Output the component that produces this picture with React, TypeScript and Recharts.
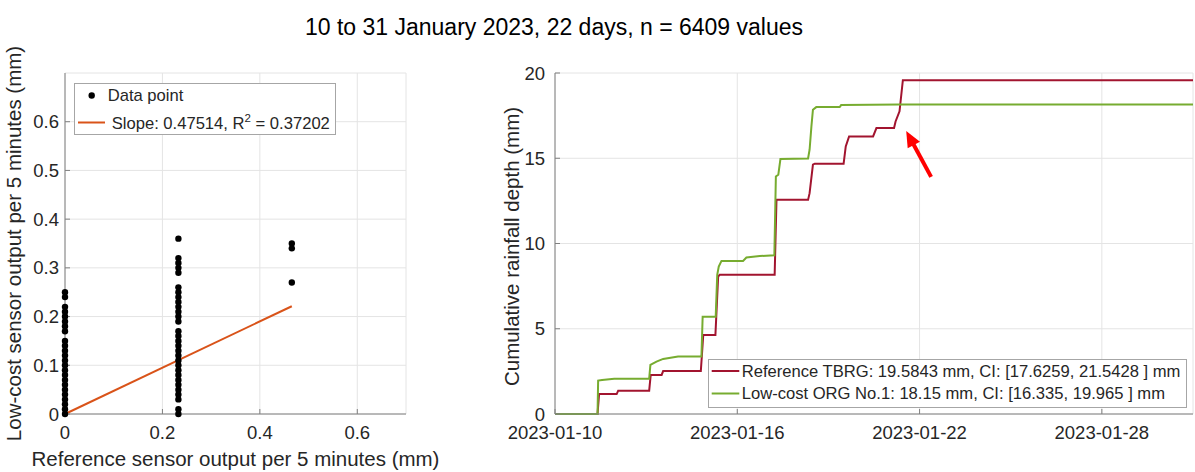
import React from 'react';
import {
  ComposedChart,
  LineChart,
  Line,
  Scatter,
  XAxis,
  YAxis,
  CartesianGrid,
  Legend,
  ReferenceLine,
  Label,
} from 'recharts';

const FONT = '"Liberation Sans", Arial, Helvetica, sans-serif';
const TEXT = '#262626';
const AXIS = '#808080';
const GRID = '#e4e4e4';
const RED = '#A2142F';
const GREEN = '#77AC30';
const ORANGE = '#D95319';

const titleText = '10 to 31 January 2023, 22 days, n = 6409 values';

// ---------- Left panel: scatter ----------
const refLevels = [0, 0.2328, 0.4656];
const lowCostAtRef0 = [
  0.25, 0.24, 0.22, 0.21, 0.2, 0.19, 0.18, 0.17, 0.15, 0.14, 0.13, 0.12, 0.11,
  0.1, 0.09, 0.08, 0.07, 0.06, 0.05, 0.04, 0.03, 0.02, 0.01, 0,
];
const lowCostAtRef1 = [
  0.36, 0.32, 0.31, 0.3, 0.29, 0.26, 0.25, 0.24, 0.23, 0.22, 0.21, 0.2, 0.19,
  0.17, 0.16, 0.15, 0.14, 0.13, 0.12, 0.11, 0.1, 0.09, 0.08, 0.07, 0.06, 0.05,
  0.04, 0.03, 0.01, 0,
];
const lowCostAtRef2 = [0.35, 0.34, 0.27];
const fitX = [0, 0.4656];
const fitY = [0, 0.2212];
const scatterXTicks = [0, 0.2, 0.4, 0.6];
const scatterYTicks = [0, 0.1, 0.2, 0.3, 0.4, 0.5, 0.6];
const scatterLegend = ['Data point', 'Slope: 0.47514, R', '2', ' = 0.37202'];

const scatterData = [
  ...lowCostAtRef0.map((y) => ({ x: refLevels[0], y })),
  ...lowCostAtRef1.map((y) => ({ x: refLevels[1], y })),
  ...lowCostAtRef2.map((y) => ({ x: refLevels[2], y })),
];
const fitData = fitX.map((x, i) => ({ x, y: fitY[i] }));

// ---------- Right panel: cumulative rainfall ----------
const refDays = [
  0, 1.4, 1.45, 2.03, 2.08, 3.1, 3.15, 3.51, 3.56, 4.8, 4.88, 5.28, 5.37, 5.42,
  7.23, 7.29, 8.33, 8.38, 8.49, 8.55, 9.5, 9.57, 9.68, 10.47, 10.58, 11.16,
  11.21, 11.34, 11.45, 21,
];
const refDepth = [
  0, 0, 1.17, 1.17, 1.37, 1.37, 2.29, 2.29, 2.52, 2.52, 4.64, 4.64, 8.06, 8.16,
  8.16, 12.56, 12.56, 12.95, 14.62, 14.68, 14.68, 15.69, 16.28, 16.28, 16.77,
  16.77, 17.16, 17.75, 19.58, 19.58,
];
const orgDays = [
  0, 1.4, 1.42, 1.55, 1.95, 3.1, 3.14, 3.34, 3.56, 4.05, 4.82, 4.86, 5.29, 5.34,
  5.39, 5.48, 6.19, 6.3, 6.74, 7.22, 7.27, 7.35, 7.42, 8.33, 8.38, 8.44, 8.49,
  8.6, 9.37, 9.42, 11.34, 21,
];
const orgDepth = [
  0, 0, 1.96, 2.0, 2.07, 2.07, 2.88, 3.07, 3.23, 3.37, 3.37, 5.71, 5.71, 8.16,
  8.65, 8.98, 8.98, 9.18, 9.26, 9.31, 13.93, 14.03, 14.95, 14.99, 15.5, 16.87,
  17.85, 18.0, 18.0, 18.12, 18.15, 18.15,
];
const dateTickDays = [0, 6, 12, 18];
const dateTickLabels = ['2023-01-10', '2023-01-16', '2023-01-22', '2023-01-28'];
const depthTicks = [0, 5, 10, 15, 20];
const seriesNames = [
  'Reference TBRG: 19.5843 mm, CI: [17.6259, 21.5428 ] mm',
  'Low-cost ORG No.1: 18.15 mm, CI: [16.335, 19.965 ] mm',
];
const arrowTail = { x: 12.38, y: 13.91 };
const arrowTip = { x: 11.56, y: 16.6 };

const refData = refDays.map((t, i) => ({ t, v: refDepth[i] }));
const orgData = orgDays.map((t, i) => ({ t, v: orgDepth[i] }));

const tickStyle = { fill: TEXT, fontSize: 18.5, fontFamily: FONT };

const ArrowShape = (p: any) => {
  const { x1, y1, x2, y2 } = p;
  const dx = x2 - x1;
  const dy = y2 - y1;
  const len = Math.hypot(dx, dy) || 1;
  const ux = dx / len;
  const uy = dy / len;
  const headLen = 16;
  const headW = 7;
  const bx = x2 - ux * headLen;
  const by = y2 - uy * headLen;
  const px = -uy;
  const py = ux;
  return (
    <g>
      <line x1={x1} y1={y1} x2={bx + ux * 2} y2={by + uy * 2} stroke="#ff0000" strokeWidth={4} />
      <polygon
        points={`${x2},${y2} ${bx + px * headW},${by + py * headW} ${bx - px * headW},${by - py * headW}`}
        fill="#ff0000"
      />
    </g>
  );
};

const ScatterLegend = () => (
  <svg width={262} height={52} style={{ display: 'block' }}>
    <rect x={0.5} y={0.5} width={261} height={51} fill="#fff" stroke="#a6a6a6" strokeWidth={1} />
    <circle cx={17.7} cy={12.5} r={3.2} fill="#000" />
    <text x={33.7} y={12.5} dominantBaseline="central" fontSize={16.6} fill={TEXT} fontFamily={FONT}>
      {scatterLegend[0]}
    </text>
    <line x1={4} x2={31} y1={39.5} y2={39.5} stroke={ORANGE} strokeWidth={2} />
    <text x={37.7} y={45.5} fontSize={16.6} fill={TEXT} fontFamily={FONT}>
      {scatterLegend[1]}
      <tspan dy={-7} fontSize={11.5}>
        {scatterLegend[2]}
      </tspan>
      <tspan dy={7}>{scatterLegend[3]}</tspan>
    </text>
  </svg>
);

const RainLegend = () => (
  <svg width={479} height={49} style={{ display: 'block' }}>
    <rect x={0.5} y={0.5} width={478} height={48} fill="#fff" stroke="#a6a6a6" strokeWidth={1} />
    <line x1={3.7} x2={31.3} y1={12} y2={12} stroke={RED} strokeWidth={2} />
    <text x={33.7} y={12} dominantBaseline="central" fontSize={16.6} fill={TEXT} fontFamily={FONT}>
      {seriesNames[0]}
    </text>
    <line x1={3.7} x2={31.3} y1={34.5} y2={34.5} stroke={GREEN} strokeWidth={2} />
    <text x={33.7} y={34.5} dominantBaseline="central" fontSize={16.6} fill={TEXT} fontFamily={FONT}>
      {seriesNames[1]}
    </text>
  </svg>
);

export default function App() {
  return (
    <div
      style={{
        position: 'absolute',
        left: 0,
        top: 0,
        width: 1195,
        height: 472,
        background: '#fff',
        fontFamily: FONT,
        overflow: 'hidden',
      }}
    >
      <svg width={1195} height={45} style={{ position: 'absolute', left: 0, top: 0 }}>
        <text x={554} y={35} textAnchor="middle" fontSize={23} fill="#000" fontFamily={FONT}>
          {titleText}
        </text>
      </svg>

      <div style={{ position: 'absolute', left: 0, top: 0 }}>
        <ComposedChart
          width={460}
          height={472}
          margin={{ top: 73, right: 54, bottom: 28, left: 0 }}
          style={{ fontFamily: FONT }}
        >
          <CartesianGrid stroke={GRID} strokeWidth={1} />
          <XAxis
            type="number"
            dataKey="x"
            domain={[0, 0.7]}
            ticks={scatterXTicks}
            height={30}
            stroke={AXIS}
            tick={tickStyle}
            tickSize={-5}
            tickMargin={17}
            tickFormatter={(v: number) => String(v)}
          >
            <Label
              content={(p: any) => {
                const vb = p.viewBox || {};
                return (
                  <text
                    x={vb.x + vb.width / 2}
                    y={466}
                    textAnchor="middle"
                    fontSize={20.5}
                    fill={TEXT}
                    fontFamily={FONT}
                  >
                    Reference sensor output per 5 minutes (mm)
                  </text>
                );
              }}
            />
          </XAxis>
          <YAxis
            type="number"
            dataKey="y"
            domain={[0, 0.7]}
            ticks={scatterYTicks}
            width={65}
            stroke={AXIS}
            tick={tickStyle}
            tickSize={-5}
            tickMargin={11}
            tickFormatter={(v: number) => String(v)}
          >
            <Label
              content={(p: any) => {
                const vb = p.viewBox || {};
                const cy = vb.y + vb.height / 2;
                return (
                  <text
                    x={21}
                    y={cy}
                    transform={`rotate(-90, 21, ${cy})`}
                    textAnchor="middle"
                    fontSize={20.5}
                    fill={TEXT}
                    fontFamily={FONT}
                  >
                    Low-cost sensor output per 5 minutes (mm)
                  </text>
                );
              }}
            />
          </YAxis>
          <Scatter
            data={scatterData}
            dataKey="y"
            isAnimationActive={false}
            shape={(p: any) => <circle cx={p.cx} cy={p.cy} r={3.2} fill="#000" />}
          />
          <Line
            data={fitData}
            dataKey="y"
            type="linear"
            stroke={ORANGE}
            strokeWidth={2}
            dot={false}
            isAnimationActive={false}
          />
          <Legend
            layout="vertical"
            align="center"
            verticalAlign="middle"
            wrapperStyle={{ left: 74, top: 83, width: 262, height: 52 }}
            content={() => <ScatterLegend />}
          />
        </ComposedChart>
      </div>

      <div style={{ position: 'absolute', left: 440, top: 0 }}>
        <LineChart
          width={755}
          height={472}
          margin={{ top: 73, right: 2, bottom: 28, left: 0 }}
          style={{ fontFamily: FONT }}
        >
          <CartesianGrid stroke={GRID} strokeWidth={1} />
          <XAxis
            type="number"
            dataKey="t"
            domain={[0, 21]}
            ticks={dateTickDays}
            height={30}
            stroke={AXIS}
            tick={tickStyle}
            tickSize={-5}
            tickMargin={17}
            tickFormatter={(v: number) => dateTickLabels[dateTickDays.indexOf(v)] ?? ''}
          />
          <XAxis
            xAxisId="top"
            orientation="top"
            type="number"
            dataKey="t"
            domain={[0, 21]}
            ticks={dateTickDays}
            height={0}
            stroke={AXIS}
            tick={false}
            tickSize={-5}
          />
          <YAxis
            type="number"
            domain={[0, 20]}
            ticks={depthTicks}
            width={115}
            stroke={AXIS}
            tick={tickStyle}
            tickSize={-5}
            tickMargin={15}
          >
            <Label
              content={(p: any) => {
                const vb = p.viewBox || {};
                const cy = vb.y + vb.height / 2 + 3;
                return (
                  <text
                    x={79}
                    y={cy}
                    transform={`rotate(-90, 79, ${cy})`}
                    textAnchor="middle"
                    fontSize={20.5}
                    fill={TEXT}
                    fontFamily={FONT}
                  >
                    Cumulative rainfall depth (mm)
                  </text>
                );
              }}
            />
          </YAxis>
          <YAxis
            yAxisId="right"
            orientation="right"
            type="number"
            domain={[0, 20]}
            ticks={depthTicks}
            width={0}
            stroke={AXIS}
            tick={false}
            tickSize={-5}
          />
          <Line
            data={refData}
            dataKey="v"
            type="linear"
            stroke={RED}
            strokeWidth={2}
            dot={false}
            isAnimationActive={false}
          />
          <Line
            data={orgData}
            dataKey="v"
            type="linear"
            stroke={GREEN}
            strokeWidth={2}
            dot={false}
            isAnimationActive={false}
          />
          <ReferenceLine
            segment={[arrowTail, arrowTip]}
            ifOverflow="visible"
            shape={ArrowShape as any}
          />
          <Legend
            layout="vertical"
            align="center"
            verticalAlign="middle"
            wrapperStyle={{ left: 268, top: 359, width: 479, height: 49 }}
            content={() => <RainLegend />}
          />
        </LineChart>
      </div>
    </div>
  );
}
